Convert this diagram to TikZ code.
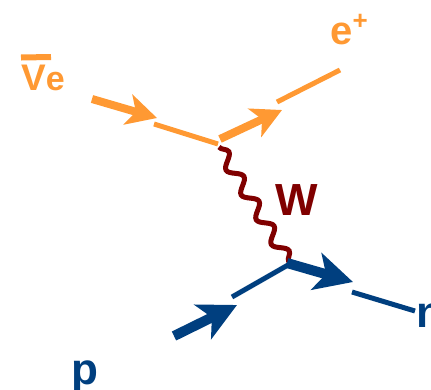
\documentclass[tikz,border=0pt]{standalone}
\usepackage{fontspec}
\setmainfont{Liberation Sans}
\usetikzlibrary{arrows.meta,decorations.pathmorphing}
\definecolor{lorange}{RGB}{255,153,51}
\definecolor{dblue}{RGB}{0,63,127}
\definecolor{dred}{RGB}{128,0,0}
\tikzset{
  fermline/.style={line width=5pt},
  fermarrow/.style={line width=8pt,-{Stealth[length=30pt,width=31pt,inset=8pt]}},
  fermarrowbig/.style={line width=10pt,-{Stealth[length=38pt,width=38pt,inset=10pt]}},
  boson/.style={line width=5pt,color=dred,decorate,decoration={snake,segment length=29pt,amplitude=6pt}},
  lbl/.style={inner sep=0pt,anchor=base,font=\bfseries}
}
\begin{document}
\begin{tikzpicture}[x=1pt,y=-1pt]
\useasboundingbox (0,0) rectangle (431,389);
\clip (0,0) rectangle (431,389);
% coordinates
\coordinate (nuS) at (92,99);
\coordinate (nuT) at (157,118);
\coordinate (nuL1) at (154,124);
\coordinate (v1) at (218,144);
\coordinate (eS) at (220,139);
\coordinate (eT) at (282,110);
\coordinate (eL1) at (277,102);
\coordinate (eL2) at (340,70);
\coordinate (wA) at (219,147);
\coordinate (wB) at (289,262);
\coordinate (pS) at (174,336);
\coordinate (pT) at (237,305);
\coordinate (pL1) at (232,297);
\coordinate (v2) at (288,265);
\coordinate (nS) at (287,263);
\coordinate (nT) at (353,282);
\coordinate (nL1) at (352,292);
\coordinate (nL2) at (415,311);
% orange lines
\draw[fermarrow,lorange] (nuS) -- (nuT);
\draw[fermline,lorange] (nuL1) -- (v1);
\draw[fermarrow,lorange] (eS) -- (eT);
\draw[fermline,lorange] (eL1) -- (eL2);
% boson
\draw[boson] (wA) -- (wB);
% blue lines
\draw[fermarrowbig,dblue] (pS) -- (pT);
\draw[fermline,dblue] (pL1) -- (v2);
\draw[fermarrowbig,dblue] (nS) -- (nT);
\draw[fermline,dblue] (nL1) -- (nL2);
% labels
\node[lbl,text=lorange] (nulbl) at (43,90) {\fontsize{37}{40}\selectfont V\fontsize{34}{40}\selectfont e};
\draw[line width=6pt,lorange] (21,57.5) -- (51,57);
\node[lbl,text=lorange] (elbl) at (349,44) {\fontsize{40}{44}\selectfont e\raisebox{15pt}{\fontsize{26}{28}\selectfont +}};
\node[lbl,text=dred] (wlbl) at (297,215) {\fontsize{45}{50}\selectfont W};
\node[lbl,text=dblue] (plbl) at (85,384) {\fontsize{44}{48}\selectfont p};
\node[lbl,text=dblue,anchor=base west] (nlbl) at (416,327) {\fontsize{44}{48}\selectfont n};
\end{tikzpicture}
\end{document}
